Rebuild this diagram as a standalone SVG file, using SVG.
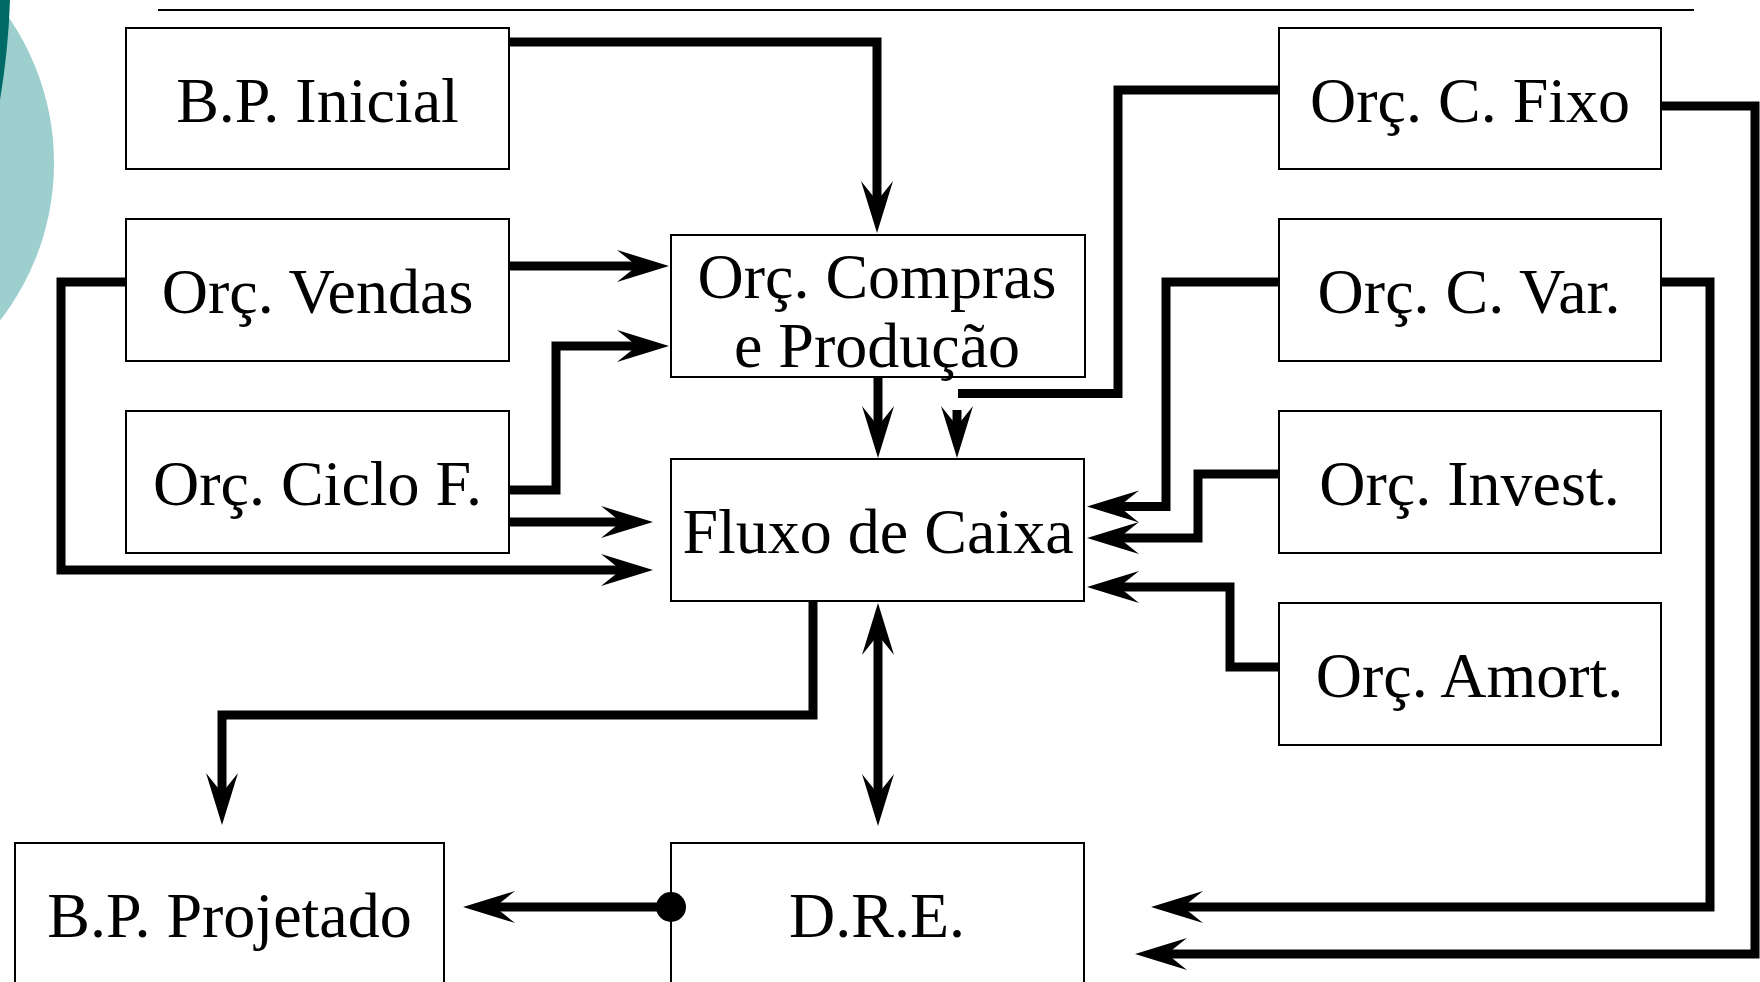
<svg xmlns="http://www.w3.org/2000/svg" width="1760" height="982" viewBox="0 0 1760 982">
<style>
.box{fill:#fff;stroke:#000;stroke-width:2}
.lbl{font-family:"Liberation Serif","Times New Roman",serif;font-size:64px;fill:#000;text-anchor:middle}
.con{fill:none;stroke:#000;stroke-width:9;stroke-linejoin:miter;stroke-linecap:butt}
.arr{marker-end:url(#ah)}
</style>
<defs>
<marker id="ah" markerUnits="userSpaceOnUse" markerWidth="52" markerHeight="34" viewBox="0 0 52 34" refX="26" refY="17" orient="auto-start-reverse">
<path d="M52,17 L0,1 L20,17 L0,33 Z" fill="#000"/>
</marker>
</defs>
<g id="decor">
<circle cx="-203" cy="163" r="257" fill="#9dcfcf"/>
<path d="M0,0 H10 Q8.4,50 0,100 Z" fill="#006a66"/>
<path d="M158,10 H1694" stroke="#000" stroke-width="2" fill="none"/>
</g>
<g id="bp-inicial"><rect class="box" x="126" y="28" width="383" height="141"/><text class="lbl" x="317.5" y="122">B.P. Inicial</text></g>
<g id="orc-vendas"><rect class="box" x="126" y="219" width="383" height="142"/><text class="lbl" x="317.5" y="313">Orç. Vendas</text></g>
<g id="orc-ciclo"><rect class="box" x="126" y="411" width="383" height="142"/><text class="lbl" x="317.5" y="505">Orç. Ciclo F.</text></g>
<g id="orc-compras"><rect class="box" x="671" y="235" width="414" height="142"/><text class="lbl" x="877" y="298">Orç. Compras</text><text class="lbl" x="877" y="367">e Produção</text></g>
<g id="fluxo-caixa"><rect class="box" x="671" y="459" width="413" height="142"/><text class="lbl" x="878" y="553">Fluxo de Caixa</text></g>
<g id="orc-c-fixo"><rect class="box" x="1279" y="28" width="382" height="141"/><text class="lbl" x="1470" y="122">Orç. C. Fixo</text></g>
<g id="orc-c-var"><rect class="box" x="1279" y="219" width="382" height="142"/><text class="lbl" x="1469" y="313">Orç. C. Var.</text></g>
<g id="orc-invest"><rect class="box" x="1279" y="411" width="382" height="142"/><text class="lbl" x="1469.5" y="505">Orç. Invest.</text></g>
<g id="orc-amort"><rect class="box" x="1279" y="603" width="382" height="142"/><text class="lbl" x="1469.5" y="697">Orç. Amort.</text></g>
<g id="bp-projetado"><rect class="box" x="15" y="843" width="429" height="160"/><text class="lbl" x="229.5" y="937">B.P. Projetado</text></g>
<g id="dre"><rect class="box" x="671" y="843" width="413" height="160"/><text class="lbl" x="877" y="937">D.R.E.</text></g>
<g id="connectors">
<path class="con arr" d="M509,42 H877 V207"/>
<path class="con arr" d="M509,266 H643"/>
<path class="con arr" d="M126,282 H61 V570 H627"/>
<path class="con arr" d="M509,490 H556 V346 H643"/>
<path class="con arr" d="M509,522 H627"/>
<path class="con arr" d="M878,377 V432"/>
<path class="con" d="M1279,90 H1118 V393.5 H958"/>
<path class="con arr" d="M957,410 V432"/>
<path class="con arr" d="M1279,282 H1166 V506.5 H1113"/>
<path class="con arr" d="M1279,474 H1198 V538 H1113"/>
<path class="con arr" d="M1279,667 H1230 V587 H1113"/>
<path class="con arr" d="M1661,282 H1710 V907 H1177"/>
<path class="con arr" d="M1661,106 H1755 V954 H1161"/>
<path class="con arr" d="M813,601 V715 H222 V799"/>
<path class="con arr" d="M878,629 V800" marker-start="url(#ah)"/>
<path class="con arr" d="M671,907 H489"/>
<circle cx="671" cy="907" r="15" fill="#000"/>
</g>
</svg>
